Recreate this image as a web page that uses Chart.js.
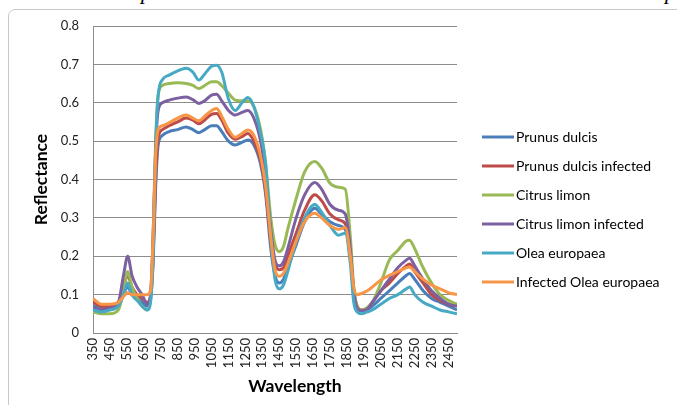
<!DOCTYPE html>
<html>
<head>
<meta charset="utf-8">
<script src="https://cdn.jsdelivr.net/npm/chart.js@4.4.1/dist/chart.umd.min.js"></script>
<style>
  html, body { margin: 0; padding: 0; background: #ffffff; }
  #wrap { position: relative; width: 677px; height: 405px; overflow: hidden; background: #fff; }
  #frame { position: absolute; left: 8px; top: 9px; width: 720px; height: 430px; border: 1px solid #c9c9c9; border-radius: 7px; }
  .cap { position: absolute; font: italic 22px "Liberation Serif", serif; color: #000; line-height: 22px; }
  #c { position: absolute; left: 0; top: 0; }
</style>
</head>
<body>
<div id="wrap">
  <div id="frame"></div>
  <span class="cap" style="left:141px; top:-19px;">p</span>
  <span class="cap" style="left:665px; top:-19px;">p</span>
  <canvas id="c" width="677" height="405"></canvas>
</div>
<script>
// ---- data ----
const wavelengths = [350,400,450,500,530,555,580,610,640,670,690,705,720,735,760,800,850,900,940,975,1010,1050,1080,1110,1150,1190,1230,1265,1300,1340,1370,1400,1425,1450,1475,1500,1550,1600,1660,1700,1750,1800,1840,1870,1890,1910,1935,1970,2000,2050,2100,2150,2200,2220,2250,2300,2350,2400,2450,2500];

const prunusDulcis = [0.07,0.065,0.065,0.07,0.10,0.12,0.10,0.09,0.08,0.07,0.09,0.18,0.38,0.49,0.515,0.525,0.53,0.537,0.53,0.522,0.53,0.54,0.54,0.525,0.50,0.49,0.497,0.503,0.49,0.44,0.36,0.22,0.15,0.13,0.14,0.17,0.23,0.29,0.325,0.31,0.29,0.28,0.27,0.20,0.10,0.065,0.058,0.06,0.07,0.09,0.11,0.13,0.15,0.155,0.14,0.11,0.09,0.08,0.07,0.06];

const prunusDulcisInfected = [0.08,0.07,0.07,0.08,0.12,0.15,0.12,0.10,0.09,0.08,0.095,0.20,0.40,0.51,0.53,0.54,0.55,0.56,0.555,0.545,0.555,0.57,0.572,0.555,0.52,0.505,0.512,0.52,0.50,0.45,0.37,0.24,0.18,0.165,0.17,0.20,0.26,0.32,0.36,0.345,0.31,0.295,0.285,0.21,0.11,0.07,0.06,0.065,0.08,0.11,0.13,0.155,0.175,0.18,0.16,0.13,0.10,0.085,0.075,0.07];

const citrusLimon = [0.055,0.05,0.05,0.06,0.11,0.16,0.12,0.09,0.07,0.06,0.09,0.25,0.50,0.62,0.645,0.65,0.652,0.65,0.645,0.637,0.645,0.655,0.655,0.645,0.625,0.607,0.605,0.605,0.59,0.53,0.44,0.30,0.23,0.212,0.225,0.27,0.35,0.42,0.447,0.43,0.39,0.38,0.375,0.25,0.12,0.07,0.06,0.065,0.08,0.13,0.19,0.215,0.24,0.242,0.22,0.17,0.13,0.10,0.085,0.075];

const citrusLimonInfected = [0.065,0.06,0.065,0.08,0.15,0.20,0.15,0.12,0.10,0.075,0.10,0.25,0.48,0.58,0.60,0.607,0.612,0.615,0.608,0.598,0.605,0.62,0.622,0.605,0.58,0.568,0.575,0.58,0.56,0.50,0.41,0.27,0.19,0.175,0.185,0.22,0.30,0.36,0.392,0.375,0.335,0.32,0.31,0.22,0.11,0.065,0.058,0.062,0.08,0.11,0.14,0.17,0.19,0.195,0.175,0.14,0.11,0.09,0.075,0.07];

const oleaEuropaea = [0.06,0.055,0.06,0.07,0.10,0.13,0.10,0.085,0.07,0.06,0.08,0.20,0.48,0.62,0.66,0.672,0.683,0.69,0.68,0.659,0.675,0.695,0.698,0.68,0.61,0.58,0.60,0.614,0.59,0.52,0.44,0.25,0.14,0.115,0.125,0.16,0.24,0.30,0.335,0.315,0.28,0.255,0.26,0.18,0.08,0.055,0.05,0.055,0.06,0.075,0.09,0.10,0.115,0.12,0.10,0.08,0.07,0.06,0.055,0.05];

const infectedOleaEuropaea = [0.09,0.075,0.075,0.08,0.095,0.105,0.10,0.10,0.10,0.10,0.11,0.25,0.46,0.53,0.54,0.548,0.56,0.568,0.56,0.553,0.565,0.58,0.585,0.565,0.53,0.51,0.52,0.529,0.515,0.46,0.38,0.25,0.165,0.148,0.155,0.18,0.24,0.29,0.312,0.30,0.28,0.27,0.275,0.20,0.12,0.10,0.103,0.11,0.12,0.138,0.15,0.16,0.17,0.172,0.16,0.14,0.125,0.115,0.105,0.10];

const seriesNames = ["Prunus dulcis","Prunus dulcis infected","Citrus limon","Citrus limon infected","Olea europaea","Infected Olea europaea"];
const seriesColors = ["#4A7EBB","#BE4B48","#98B954","#7D60A0","#46AAC5","#F79646"];
const xTickValues = [350,450,550,650,750,850,950,1050,1150,1250,1350,1450,1550,1650,1750,1850,1950,2050,2150,2250,2350,2450];
const yTickValues = [0,0.1,0.2,0.3,0.4,0.5,0.6,0.7,0.8];
const xTitle = "Wavelength";
const yTitle = "Reflectance";

const seriesValues = [prunusDulcis, prunusDulcisInfected, citrusLimon, citrusLimonInfected, oleaEuropaea, infectedOleaEuropaea];

const datasets = seriesValues.map((vals, i) => ({
  label: seriesNames[i],
  data: wavelengths.map((w, k) => ({ x: w, y: vals[k] })),
  borderColor: seriesColors[i],
  backgroundColor: seriesColors[i],
  borderWidth: 3,
  pointRadius: 0,
  fill: false,
  cubicInterpolationMode: 'monotone',
  order: seriesValues.length - i
}));

const FONT = 'Lato, "Open Sans", sans-serif';

const overlay = {
  id: 'overlay',
  afterDraw(chart) {
    const ctx = chart.ctx;
    const ca = chart.chartArea;
    ctx.save();
    ctx.fillStyle = '#000';
    ctx.font = 'bold 17.5px ' + FONT;
    ctx.textAlign = 'center';
    ctx.textBaseline = 'middle';
    ctx.fillText(xTitle, (ca.left + ca.right) / 2 + 20, 386);
    chart.data.datasets.forEach((ds, i) => {
      const y = 137 + i * 29;
      ctx.strokeStyle = ds.borderColor;
      ctx.lineWidth = 3;
      ctx.beginPath();
      ctx.moveTo(482, y);
      ctx.lineTo(514, y);
      ctx.stroke();
      ctx.font = '14px ' + FONT;
      ctx.textAlign = 'left';
      ctx.fillStyle = '#000';
      ctx.fillText(ds.label, 516, y);
    });
    ctx.restore();
  }
};

new Chart(document.getElementById('c'), {
  type: 'line',
  data: { datasets },
  plugins: [overlay],
  options: {
    responsive: false,
    animation: false,
    layout: { padding: { left: 0, right: 220, top: 26, bottom: 0 } },
    plugins: { legend: { display: false }, tooltip: { enabled: false } },
    scales: {
      x: {
        type: 'linear',
        min: 350,
        max: 2500,
        afterBuildTicks: (s) => { s.ticks = xTickValues.map(v => ({ value: v })); },
        afterFit: (s) => { s.height = 72; },
        grid: { display: false, drawTicks: false },
        border: { display: true, color: '#8c8c8c', width: 1 },
        ticks: {
          autoSkip: false,
          maxRotation: 90,
          minRotation: 90,
          padding: 5,
          color: '#222',
          font: { family: FONT, size: 13 },
          callback: (v) => String(v)
        }
      },
      y: {
        min: 0,
        max: 0.8,
        afterBuildTicks: (s) => { s.ticks = yTickValues.map(v => ({ value: v })); },
        afterFit: (s) => { s.width = 93; },
        grid: { color: '#8c8c8c', lineWidth: 1, drawTicks: false },
        border: { display: true, color: '#8c8c8c', width: 1 },
        ticks: {
          padding: 14,
          color: '#222',
          font: { family: FONT, size: 13 },
          callback: (v) => (v === 0 ? '0' : v.toFixed(1))
        },
        title: {
          display: true,
          text: yTitle,
          color: '#000',
          font: { family: FONT, size: 17.5, weight: 'bold' },
          padding: { top: 31, bottom: 0 }
        }
      }
    }
  }
});
</script>
</body>
</html>
